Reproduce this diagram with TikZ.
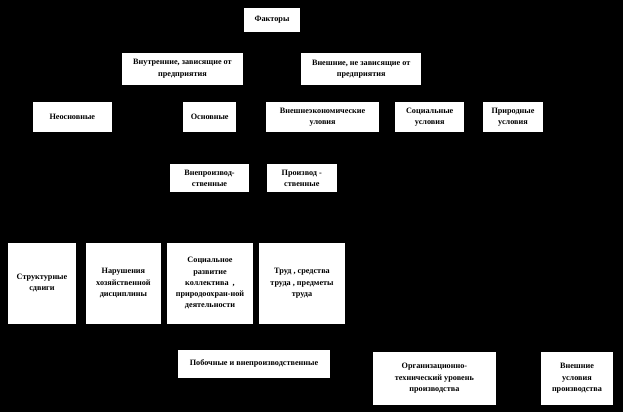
\documentclass[tikz,border=0pt]{standalone}
\usepackage{fontspec}
\setmainfont{Liberation Serif}
\usepackage{tikz}
\usetikzlibrary{positioning}
\definecolor{boxwhite}{HTML}{FFFFFF}
\definecolor{pagedark}{HTML}{000000}

\begin{document}
\begin{tikzpicture}[
      x=1pt, y=-1pt,
      factor/.style={fill=boxwhite, inner sep=1pt, align=center,
        font=\bfseries\fontsize{8.2}{11.2}\selectfont, text=black}
    ]
      \fill[pagedark] (0,0) rectangle (623,412);
      \useasboundingbox (0,0) rectangle (623,412);
      \node[factor, minimum width=56pt, minimum height=24pt] (factors)
        at (272,20) {Факторы};
      \node[factor, minimum width=121pt, minimum height=32pt] (internal)
        at (182.5,68.7) {Внутренние, зависящие от\\предприятия};
      \node[factor, minimum width=120.5pt, minimum height=32pt] (external)
        at (361.2,69) {Внешние, не зависящие от\\предприятия};
      \node[factor, minimum width=78.6pt, minimum height=30pt] (nonbasic)
        at (72.3,117) {Неосновные};
      \node[factor, minimum width=53.4pt, minimum height=30pt] (basic)
        at (209.7,117) {Основные};
      \node[factor, minimum width=113.6pt, minimum height=30pt] (economic)
        at (322.6,117) {Внешнеэкономические\\уловия};
      \node[factor, minimum width=69.4pt, minimum height=30pt] (social)
        at (429.7,117) {Социальные\\условия};
      \node[factor, minimum width=60.8pt, minimum height=30pt] (natural)
        at (513,117) {Природные\\условия};
      \node[factor, minimum width=79pt, minimum height=28pt] (nonprod)
        at (209.5,178) {Внепроизвод-\\ственные};
      \node[factor, minimum width=70.4pt, minimum height=28pt] (prod)
        at (301.8,178) {Производ -\\ственные};
      \node[factor, minimum width=68pt, minimum height=81pt] (shifts)
        at (42,283.2) {Структурные\\сдвиги};
      \node[factor, minimum width=75.2pt, minimum height=81pt] (discipline)
        at (123.4,283.2) {Нарушения\\хозяйственной\\дисциплины};
      \node[factor, minimum width=86pt, minimum height=81pt] (socdev)
        at (210,283.2) {Социальное\\развитие\\коллектива~ ,\\природоохран-ной\\деятельности};
      \node[factor, minimum width=86pt, minimum height=81pt] (labour)
        at (302,283.2) {Труд , средства\\труда , предметы\\труда};
      \node[factor, minimum width=152pt, minimum height=27.7pt] (side)
        at (254,363.8) {Побочные и внепроизводственные};
      \node[factor, minimum width=122.8pt, minimum height=53.3pt] (orgtech)
        at (434.4,378.3) {Организационно-\\технический уровень\\производства};
      \node[factor, minimum width=72pt, minimum height=53.3pt] (extcond)
        at (577,378.3) {Внешние\\условия\\производства};
    \end{tikzpicture}
\end{document}
